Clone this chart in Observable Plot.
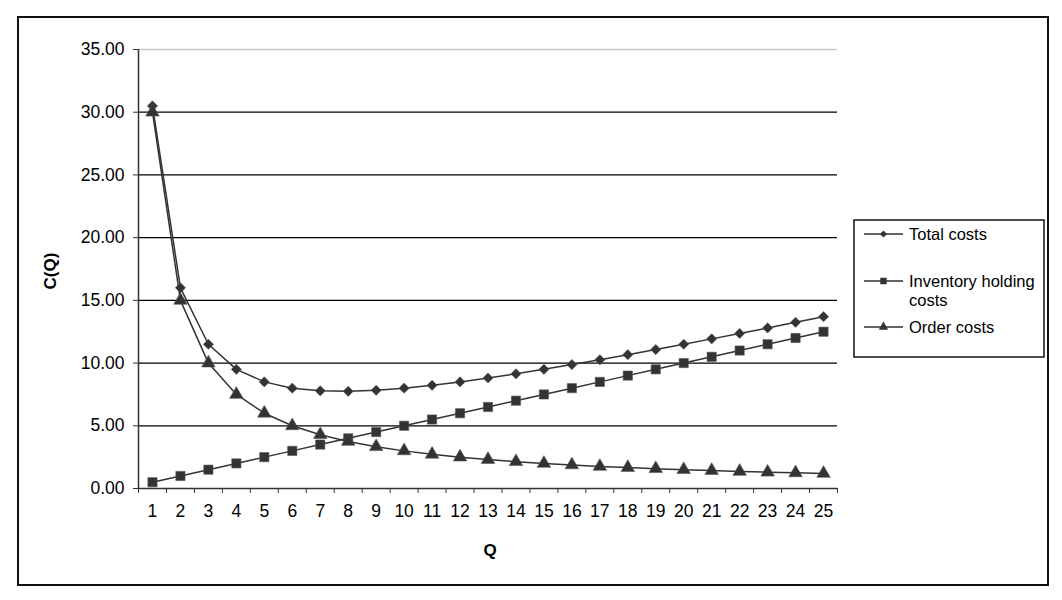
<!DOCTYPE html>
<html>
<head>
<meta charset="utf-8">
<script src="https://cdn.jsdelivr.net/npm/d3@7"></script>
<script src="https://cdn.jsdelivr.net/npm/@observablehq/plot@0.6"></script>
<style>
  html, body { margin: 0; padding: 0; background: #fff; }
  #chart { width: 1062px; height: 600px; }
</style>
</head>
<body>
<div id="chart"></div>
<script>
// ---- data ----
const Q = [1,2,3,4,5,6,7,8,9,10,11,12,13,14,15,16,17,18,19,20,21,22,23,24,25];
const totalCosts = [30.50,16.00,11.50,9.50,8.50,8.00,7.79,7.75,7.83,8.00,8.23,8.50,8.81,9.14,9.50,9.88,10.26,10.67,11.08,11.50,11.93,12.36,12.80,13.25,13.70];
const holdingCosts = [0.50,1.00,1.50,2.00,2.50,3.00,3.50,4.00,4.50,5.00,5.50,6.00,6.50,7.00,7.50,8.00,8.50,9.00,9.50,10.00,10.50,11.00,11.50,12.00,12.50];
const orderCosts = [30.00,15.00,10.00,7.50,6.00,5.00,4.29,3.75,3.33,3.00,2.73,2.50,2.31,2.14,2.00,1.88,1.76,1.67,1.58,1.50,1.43,1.36,1.30,1.25,1.20];
const seriesNames = ["Total costs", "Inventory holding costs", "Order costs"];
const yTicks = [0,5,10,15,20,25,30,35];

const series = [
  {name: seriesNames[0], values: totalCosts, symbol: "diamond2", r: 4.6},
  {name: seriesNames[1], values: holdingCosts, symbol: "square", r: 5.2},
  {name: seriesNames[2], values: orderCosts, symbol: "triangle", r: 5.0}
];
const rows = series.flatMap(s => s.values.map((v, i) => ({q: Q[i], v, name: s.name})));
const boundaries = [...Q.map(q => q - 0.5), Q[Q.length - 1] + 0.5];
const ink = "#333";

const marks = [
  Plot.gridY(yTicks.filter(t => t > 0 && t < 35), {stroke: "#000", strokeOpacity: 1, strokeWidth: 1.3}),
  Plot.gridY(yTicks.filter(t => t === 35), {stroke: "#c8c8c8", strokeOpacity: 1, strokeWidth: 1.5}),
  Plot.axisY(yTicks, {tickSize: 5, tickPadding: 9, tickFormat: d => d.toFixed(2), label: null, stroke: ink}),
  Plot.axisX(boundaries, {tickSize: 5, tickFormat: () => "", label: null, stroke: ink}),
  Plot.axisX(Q, {tickSize: 0, tickPadding: 16, label: null}),
  Plot.ruleY([0], {stroke: ink, strokeWidth: 1.5}),
  Plot.ruleX([boundaries[0]], {stroke: ink, strokeWidth: 1.5}),
  Plot.line(rows, {x: "q", y: "v", z: "name", stroke: ink, strokeWidth: 1.5})
];
for (const s of series) {
  marks.push(Plot.dot(s.values.map((v, i) => ({q: Q[i], v})), {
    x: "q", y: "v", symbol: () => s.symbol, r: s.r, fill: ink, stroke: "#555", strokeWidth: 0.6
  }));
}

const chart = Plot.plot({
  width: 1062,
  height: 600,
  marginLeft: 138,
  marginRight: 225,
  marginTop: 49,
  marginBottom: 112,
  style: {fontFamily: "'Liberation Sans', Arial, sans-serif", fontSize: "17.5px", color: "#000", background: "#fff"},
  x: {type: "linear", domain: [boundaries[0], boundaries[boundaries.length - 1]], axis: null},
  y: {domain: [0, 35], axis: null},
  symbol: {type: "identity"},
  marks
});
document.getElementById("chart").appendChild(chart);

// frame, axis titles and legend
const svg = d3.select(chart);
svg.append("rect").attr("x", 18).attr("y", 17).attr("width", 1030).attr("height", 568)
  .attr("fill", "none").attr("stroke", "#111").attr("stroke-width", 2);
svg.append("text").attr("transform", "translate(56,271) rotate(-90)")
  .attr("text-anchor", "middle").attr("font-weight", "bold").attr("font-size", 17).text("C(Q)");
svg.append("text").attr("x", 490).attr("y", 556)
  .attr("text-anchor", "middle").attr("font-weight", "bold").attr("font-size", 17).text("Q");

const lg = svg.append("g").attr("font-size", 16.5).attr("text-anchor", "start");
lg.append("rect").attr("x", 854).attr("y", 220).attr("width", 190).attr("height", 137)
  .attr("fill", "#fff").attr("stroke", "#111").attr("stroke-width", 1.5);
const legendRows = [
  {y: 234, lines: ["Total costs"]},
  {y: 281, lines: ["Inventory holding", "costs"]},
  {y: 327, lines: ["Order costs"]}
];
const symbolMap = {diamond2: d3.symbolDiamond2, square: d3.symbolSquare, triangle: d3.symbolTriangle};
series.forEach((s, i) => {
  const row = legendRows[i];
  lg.append("line").attr("x1", 864).attr("x2", 903).attr("y1", row.y).attr("y2", row.y)
    .attr("stroke", ink).attr("stroke-width", 1.3);
  lg.append("path").attr("transform", `translate(883.5,${row.y})`)
    .attr("d", d3.symbol(symbolMap[s.symbol], Math.PI * (s.r * 0.7) ** 2)())
    .attr("fill", ink);
  row.lines.forEach((t, j) => {
    lg.append("text").attr("x", 909).attr("y", row.y + 6 + j * 19).attr("text-anchor", "start").text(t);
  });
});
</script>
</body>
</html>
